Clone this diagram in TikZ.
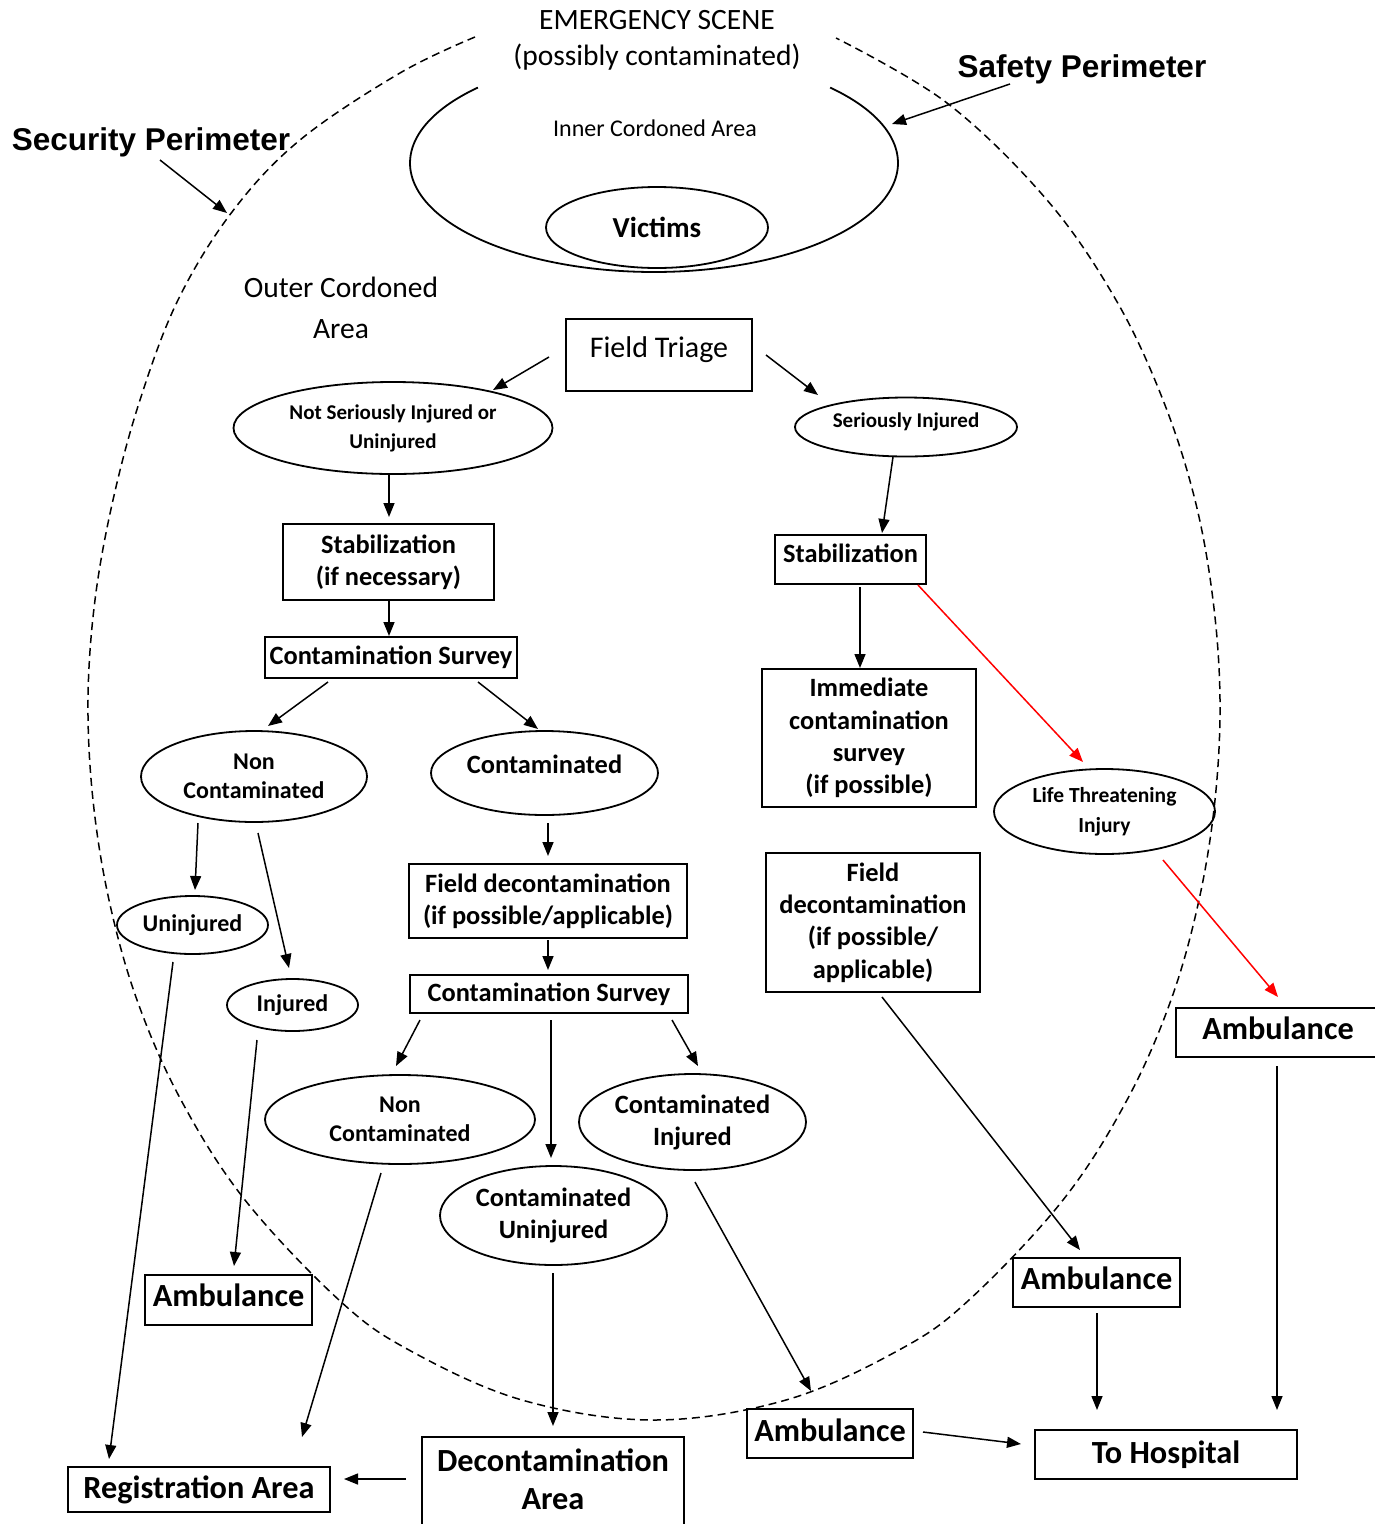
\documentclass[tikz,border=0pt]{standalone}
\usepackage{fontspec}
\setmainfont{Carlito}
\newfontfamily\arialfont{Liberation Sans}
\usetikzlibrary{shapes.geometric,arrows.meta}

\begin{document}
\begin{tikzpicture}[x=1pt,y=-1pt,
  box/.style={draw, line width=1.8pt, inner sep=0pt, align=center,
    font=\bfseries\fontsize{26.4}{32.3}\selectfont},
  oval/.style={draw, ellipse, line width=1.8pt, inner sep=0pt, align=center,
    font=\bfseries\fontsize{26.4}{32}\selectfont},
  bigbox/.style={box, font=\bfseries\fontsize{32.3}{38}\selectfont},
  smalloval/.style={oval, font=\bfseries\fontsize{21}{29}\selectfont},
  midoval/.style={oval, font=\bfseries\fontsize{24}{28.5}\selectfont},
  perim/.style={font=\arialfont\bfseries\fontsize{31.5}{36}\selectfont},
  arr/.style={-{Triangle[length=14pt,width=11pt]}, line width=1.5pt},
  redarr/.style={arr, red},
  cordon/.style={line width=1.5pt, dash pattern=on 8pt off 5pt}
]
% page frame
\path[use as bounding box] (0,0) rectangle (1375,1524);
\fill[white] (0,0) rectangle (1375,1524);
\clip (0,0) rectangle (1375,1524);

% outer (security) cordon, open at the top for the heading
\draw[cordon] plot[smooth, tension=0.6] coordinates {
  (475,37) (400,73) (300,140) (232,212) (178,300) (140,400) (113,500)
  (95,600) (88,700) (93,800) (109,900) (137,1000) (181,1100) (245,1200)
  (339,1300) (409,1350) (522,1400) (654,1420) (786,1400) (899,1350)
  (969,1300) (1063,1200) (1127,1100) (1171,1000) (1199,900) (1215,800)
  (1220,700) (1213,600) (1195,500) (1163,400) (1116,300) (1047,200)
  (947,103) (836,38)};

% inner cordon, open at the top
\draw[line width=1.8pt] plot[domain=136.2:403.8, samples=150, smooth]
  ({654+244*cos(\x)},{163-109*sin(\x)});

% headings and area labels
\node (emerg) at (657,40) [align=center, font=\fontsize{29.5}{36}\selectfont]
  {EMERGENCY SCENE\\(possibly contaminated)};
\node (inner) at (655,128) [font=\fontsize{24}{28}\selectfont] {Inner Cordoned Area};
\node (outer) at (341,308) [align=center, font=\fontsize{29.5}{41}\selectfont]
  {Outer Cordoned\\Area};
\node (secp) at (151,142) [perim] {Security Perimeter};
\node (safp) at (1082,69) [perim] {Safety Perimeter};
\coordinate (secpt) at (227,213);
\coordinate (safpt) at (892,124);

\node (victims) [oval, minimum width=222pt, minimum height=81pt,
  font=\bfseries\fontsize{29}{34}\selectfont] at (657,227.5) {Victims};

% triage flow
\node (ft) [box, font=\fontsize{30}{34}\selectfont, minimum width=186pt,
  minimum height=72pt, text height=20pt, text depth=16pt] at (659,355) {Field Triage};
\node (nsi) [smalloval, minimum width=319pt, minimum height=92pt] at (393,428)
  {Not Seriously Injured or\\Uninjured};
\node (si) [smalloval, minimum width=222pt, minimum height=59pt,
  text height=15pt, text depth=15pt] at (906,427) {Seriously Injured};
\node (stabL) [box, minimum width=211pt, minimum height=76pt] at (388.5,562)
  {Stabilization\\(if necessary)};
\node (stabR) [box, minimum width=151pt, minimum height=49pt,
  text height=18pt, text depth=13pt] at (850.5,559.5) {Stabilization};
\node (csL) [box, minimum width=252pt, minimum height=41pt] at (391,657.5)
  {Contamination Survey};
\node (imm) [box, minimum width=214pt, minimum height=138pt] at (869,738)
  {Immediate\\contamination\\survey\\(if possible)};
\node (ncL) [midoval, minimum width=226pt, minimum height=91pt] at (254,776.5)
  {Non\\Contaminated};
\node (cont) [oval, minimum width=227pt, minimum height=84pt,
  text height=18pt, text depth=18pt] at (544.5,773) {Contaminated};
\node (lti) [smalloval, font=\bfseries\fontsize{21.5}{30}\selectfont,
  minimum width=221pt, minimum height=85pt] at (1104.5,811.5)
  {Life Threatening\\Injury};
\node (fdc) [box, minimum width=278pt, minimum height=74pt] at (548,901)
  {Field decontamination\\(if possible/applicable)};
\node (fdcR) [box, minimum width=214pt, minimum height=139pt] at (873,922.5)
  {Field\\decontamination\\(if possible/\\applicable)};
\node (unj) [midoval, minimum width=151pt, minimum height=58pt] at (192.5,925) {Uninjured};
\node (inj) [midoval, minimum width=131pt, minimum height=52pt] at (292.5,1005) {Injured};
\node (ambR) [bigbox, minimum width=204pt, minimum height=49pt,
  text height=22pt, text depth=8pt] at (1278,1032.5) {Ambulance};
\node (cs2) [box, minimum width=278pt, minimum height=38pt] at (549,994)
  {Contamination Survey};
\node (ncB) [midoval, minimum width=270pt, minimum height=89pt] at (400,1119.5)
  {Non\\Contaminated};
\node (ci) [oval, minimum width=227pt, minimum height=96pt] at (692.5,1122)
  {Contaminated\\Injured};
\node (cu) [oval, minimum width=227pt, minimum height=99pt] at (553.5,1215.5)
  {Contaminated\\Uninjured};
\node (ambL) [bigbox, minimum width=167pt, minimum height=50pt,
  text height=22pt, text depth=9pt] at (228.5,1300) {Ambulance};
\node (ambM) [bigbox, minimum width=167pt, minimum height=49pt,
  text height=22pt, text depth=8pt] at (1096.5,1282.5) {Ambulance};
\node (ambB) [bigbox, minimum width=166pt, minimum height=49pt,
  text height=22pt, text depth=7pt] at (830,1433.5) {Ambulance};
\node (hosp) [bigbox, minimum width=262pt, minimum height=49pt] at (1166,1454.5) {To Hospital};
\node (reg) [bigbox, minimum width=262pt, minimum height=45pt] at (199,1489.5) {Registration Area};
\node (deconbox) [draw, line width=1.8pt, minimum width=262pt, minimum height=110pt,
  anchor=north, outer sep=0pt] at (553,1437) {};
\node (decon) [align=center, font=\bfseries\fontsize{32.3}{38}\selectfont] at (553,1479)
  {Decontamination\\Area};

% perimeter pointers
\draw[arr] ([shift={(9,18)}]secp.center) -- (secpt);
\draw[arr] ([shift={(-72,15)}]safp.center) -- (safpt);

% connectors
\draw[arr] ([shift={(-110,2)}]ft.center) -- ([shift={(100,-38)}]nsi.center);
\draw[arr] ([shift={(107,0)}]ft.center) -- ([shift={(-88,-32)}]si.center);
\draw[arr] ([shift={(-4,47)}]nsi.center) -- ([shift={(0.5,-45)}]stabL.center);
\draw[arr] ([shift={(-13,30)}]si.center) -- ([shift={(31.5,-26.5)}]stabR.center);
\draw[arr] ([shift={(0.5,38)}]stabL.center) -- ([shift={(-2,-21.5)}]csL.center);
\draw[arr] ([shift={(-63,24.5)}]csL.center) -- ([shift={(14,-50.5)}]ncL.center);
\draw[arr] ([shift={(87,24.5)}]csL.center) -- ([shift={(-6.5,-44)}]cont.center);
\draw[arr] ([shift={(9.5,27.5)}]stabR.center) -- ([shift={(-9,-70)}]imm.center);
\draw[redarr] ([shift={(67.5,25.5)}]stabR.center) -- ([shift={(-21.5,-49.5)}]lti.center);
\draw[redarr] ([shift={(58.5,48.5)}]lti.center) -- ([shift={(0,-35.5)}]ambR.center);
\draw[arr] ([shift={(-56,46.5)}]ncL.center) -- ([shift={(2.5,-35)}]unj.center);
\draw[arr] ([shift={(4,56.5)}]ncL.center) -- ([shift={(-3.5,-37)}]inj.center);
\draw[arr] ([shift={(3.5,50)}]cont.center) -- ([shift={(0,-45)}]fdc.center);
\draw[arr] ([shift={(0,39)}]fdc.center) -- ([shift={(-1,-24)}]cs2.center);
\draw[arr] ([shift={(-129,26)}]cs2.center) -- ([shift={(-4,-53.5)}]ncB.center);
\draw[arr] ([shift={(2,26)}]cs2.center) -- ([shift={(-2.5,-57.5)}]cu.center);
\draw[arr] ([shift={(123,26)}]cs2.center) -- ([shift={(5.5,-56)}]ci.center);
\draw[arr] ([shift={(-19.5,37)}]unj.center) -- ([shift={(-90,-30.5)}]reg.center);
\draw[arr] ([shift={(-35.5,35)}]inj.center) -- ([shift={(5.5,-34)}]ambL.center);
\draw[arr] ([shift={(-19,53.5)}]ncB.center) -- ([shift={(103,-52.5)}]reg.center);
\draw[arr] ([shift={(-0.5,57.5)}]cu.center) -- ([shift={(0,-11)}]deconbox.north);
\draw[arr] ([shift={(2.5,60)}]ci.center) -- ([shift={(-19,-42.5)}]ambB.center);
\draw[arr] ([shift={(9,74.5)}]fdcR.center) -- ([shift={(-16.5,-32.5)}]ambM.center);
\draw[arr] ([shift={(-1,33.5)}]ambR.center) -- ([shift={(111,-44.5)}]hosp.center);
\draw[arr] ([shift={(0.5,30.5)}]ambM.center) -- ([shift={(-69,-44.5)}]hosp.center);
\draw[arr] ([shift={(93,-1.5)}]ambB.center) -- ([shift={(-145,-10.5)}]hosp.center);
\draw[arr] ([shift={(-147,42)}]deconbox.north) -- ([shift={(145,-10.5)}]reg.center);
\end{tikzpicture}
\end{document}
